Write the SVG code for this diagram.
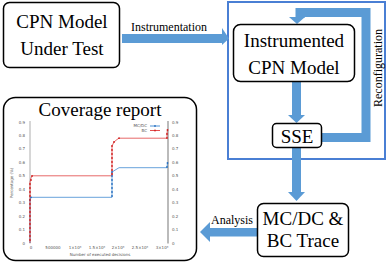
<svg xmlns="http://www.w3.org/2000/svg" width="389" height="268" viewBox="0 0 389 268">
<style>
.box{fill:#fff;stroke:#000;stroke-width:1.5}
.big{font-family:"Liberation Serif",serif;font-size:19px;fill:#000;text-anchor:middle}
.lbl{font-family:"Liberation Serif",serif;font-size:12px;fill:#000}
.arr{fill:#5b9bd5}
.bar{fill:none;stroke:#5b9bd5;stroke-width:9}
.tk{font-family:"DejaVu Sans",sans-serif;font-size:4px;fill:#555}
.ax{stroke:#999;stroke-width:0.8;fill:none}
.red{fill:none;stroke:#e03a3a;stroke-width:0.9}
.blue{fill:none;stroke:#3a86d0;stroke-width:0.9}
</style>
<defs>
<circle id="rd" r="0.9" fill="#d02020"/>
<circle id="bd" r="0.9" fill="#2a70c0"/>
</defs>
<g id="container">
<rect x="228" y="2" width="157" height="157" fill="none" stroke="#4a7fd4" stroke-width="2"/>
</g>
<g id="connectors">
<rect class="arr" x="122" y="34" width="101" height="9"/>
<polygon class="arr" points="222,28 229,38.5 222,45"/>
<text class="lbl" x="131" y="31">Instrumentation</text>
<polyline class="bar" points="322,137.5 366,137.5 366,12.5 300,12.5 300,18"/>
<polygon class="arr" points="289,17 305,17 297,24"/>
<text class="lbl" transform="translate(382,68) rotate(-90)" text-anchor="middle">Reconfiguration</text>
<rect class="arr" x="292" y="82" width="9" height="34"/>
<polygon class="arr" points="288,115 305,115 296.5,123"/>
<rect class="arr" x="292" y="148" width="9" height="45"/>
<polygon class="arr" points="288,192 305,192 296.5,201"/>
<rect class="arr" x="209" y="228" width="48" height="8.5"/>
<polygon class="arr" points="210,222 210,242 200,232"/>
<text class="lbl" x="211" y="224">Analysis</text>
</g>
<g id="cpn-model">
<rect class="box" x="3.5" y="2.5" width="116" height="65" rx="6"/>
<text class="big" x="62" y="28">CPN Model</text>
<text class="big" x="62" y="55">Under Test</text>
</g>
<g id="instrumented">
<rect class="box" x="233.5" y="24.5" width="121" height="57" rx="7"/>
<text class="big" x="294" y="47">Instrumented</text>
<text class="big" x="294" y="74">CPN Model</text>
</g>
<g id="sse">
<rect class="box" x="272.5" y="123.5" width="49" height="24" rx="4"/>
<text class="big" x="297" y="143">SSE</text>
</g>
<g id="trace">
<rect class="box" x="257.5" y="203.5" width="91" height="53" rx="6"/>
<text class="big" x="303" y="225">MC/DC &amp;</text>
<text class="big" x="303" y="247">BC Trace</text>
</g>
<g id="coverage-report">
<rect class="box" x="3.5" y="97.5" width="193" height="163" rx="12"/>
<text class="big" x="100" y="116" style="font-size:19px">Coverage report</text>
<line class="ax" x1="30" y1="121" x2="30" y2="243.5"/>
<line x1="168" y1="121" x2="168" y2="243.5" stroke="#bbb" stroke-width="2"/>
<g class="tk" text-anchor="end">
<text x="25" y="244.5">0</text>
<text x="25" y="231">0.1</text>
<text x="25" y="217.6">0.2</text>
<text x="25" y="204.2">0.3</text>
<text x="25" y="190.7">0.4</text>
<text x="25" y="177.3">0.5</text>
<text x="25" y="163.9">0.6</text>
<text x="25" y="150.4">0.7</text>
<text x="25" y="137">0.8</text>
<text x="25" y="123.5">0.9</text>
</g>
<g class="tk">
<text x="172" y="244.5">0</text>
<text x="172" y="231">0.1</text>
<text x="172" y="217.6">0.2</text>
<text x="172" y="204.2">0.3</text>
<text x="172" y="190.7">0.4</text>
<text x="172" y="177.3">0.5</text>
<text x="172" y="163.9">0.6</text>
<text x="172" y="150.4">0.7</text>
<text x="172" y="137">0.8</text>
<text x="172" y="123.5">0.9</text>
</g>
<g class="tk" text-anchor="middle">
<text x="31" y="249">0</text>
<text x="53" y="249">500000</text>
<text x="75" y="249">1×10⁶</text>
<text x="97" y="249">1.5×10⁶</text>
<text x="118" y="249">2×10⁶</text>
<text x="140" y="249">2.5×10⁶</text>
<text x="162" y="249">3×10⁶</text>
<text x="100" y="256">Number of executed decisions</text>
<text transform="translate(13,183) rotate(-90)">Percentage (%)</text>
</g>
<text class="tk" x="147" y="127" text-anchor="end">MC/DC</text>
<text class="tk" x="147" y="131.5" text-anchor="end">BC</text>
<line class="blue" x1="150" y1="126" x2="160" y2="126"/>
<line class="red" x1="150" y1="130.5" x2="160" y2="130.5"/>
<use href="#bd" x="155" y="126"/>
<use href="#rd" x="155" y="130.5"/>
<polyline class="blue" points="30,243 30,200 31,197.3 112,197.3 112,172 119,167.7 167,167.7 167.5,162.4" stroke-opacity="0.85"/>
<polyline class="red" points="30,243 30,182 31,178 32,175.8 112,175.8 112,146 114,142 117,139.5 119,138.2 167,138.2 167,133 167.5,130" stroke-opacity="0.85"/>
<g>
<use href="#bd" x="30" y="200"/><use href="#bd" x="31" y="197.3"/>
<use href="#bd" x="112" y="196"/><use href="#bd" x="112" y="192"/><use href="#bd" x="112" y="188"/><use href="#bd" x="112" y="184"/><use href="#bd" x="112" y="180"/><use href="#bd" x="112" y="176"/><use href="#bd" x="112" y="172"/>
<use href="#bd" x="167" y="167"/><use href="#bd" x="167.5" y="163"/>
</g>
<g>
<use href="#rd" x="30" y="240"/><use href="#rd" x="30" y="236"/><use href="#rd" x="30" y="232"/><use href="#rd" x="30" y="228"/><use href="#rd" x="30" y="224"/><use href="#rd" x="30" y="220"/><use href="#rd" x="30" y="216"/><use href="#rd" x="30" y="212"/><use href="#rd" x="30" y="208"/><use href="#rd" x="30" y="204"/><use href="#rd" x="30" y="200"/><use href="#rd" x="30" y="196"/><use href="#rd" x="30" y="192"/><use href="#rd" x="30" y="188"/><use href="#rd" x="30" y="184"/><use href="#rd" x="31" y="180"/><use href="#rd" x="32" y="176"/>
<use href="#rd" x="112" y="174"/><use href="#rd" x="112" y="170"/><use href="#rd" x="112" y="166"/><use href="#rd" x="112" y="162"/><use href="#rd" x="112" y="158"/><use href="#rd" x="112" y="154"/><use href="#rd" x="112" y="150"/><use href="#rd" x="112" y="146"/><use href="#rd" x="114" y="142"/><use href="#rd" x="119" y="138.2"/>
<use href="#rd" x="167" y="138"/><use href="#rd" x="167" y="134"/><use href="#rd" x="167.5" y="130"/>
</g>
</g>
</svg>
